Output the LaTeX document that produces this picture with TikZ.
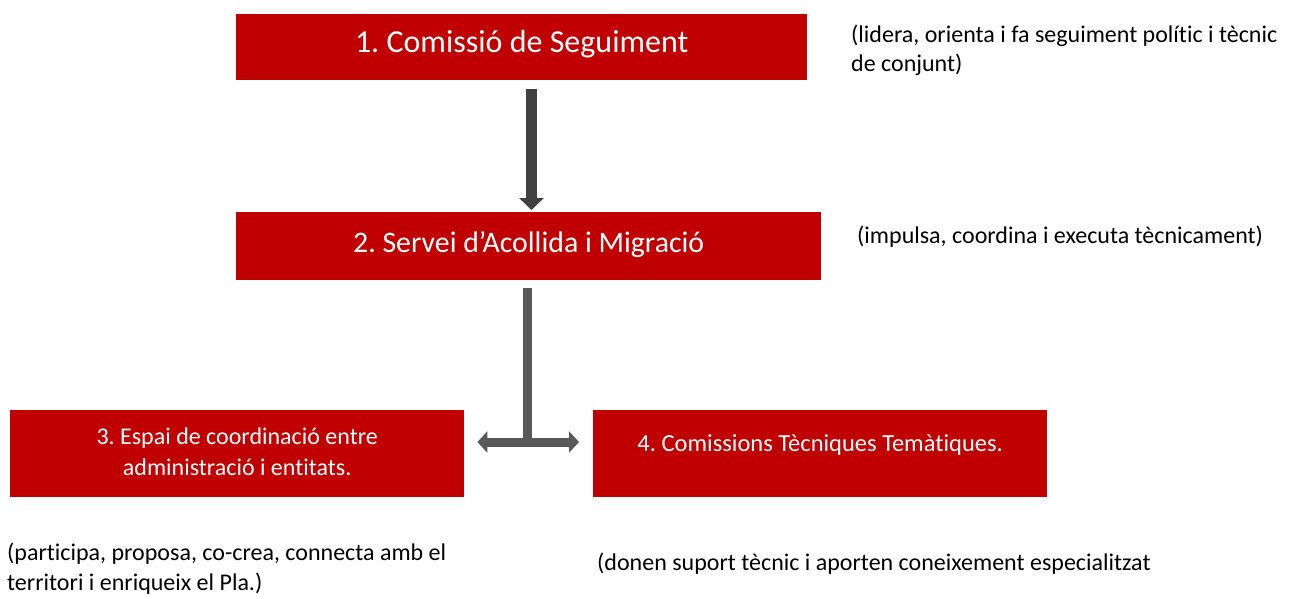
\documentclass[tikz,border=0pt]{standalone}
\usepackage{fontspec}
\setmainfont{Carlito}[Ligatures=NoCommon]
\usepackage{xcolor}
\usetikzlibrary{arrows.meta}
\definecolor{boxred}{HTML}{C00000}
\definecolor{arrowgray}{HTML}{595959}
\definecolor{darkgray}{HTML}{404040}
\frenchspacing

\begin{document}
\begin{tikzpicture}[line cap=butt,line join=miter,x=1pt,y=-1pt,
	redbox/.style={fill=boxred,text=white,inner sep=0pt,anchor=north west,align=center},
	note/.style={anchor=base west,inner sep=0pt,align=left,font=\fontsize{24}{29}\selectfont},
	downarrow/.style={draw=darkgray,line width=11pt,-{Triangle[length=12pt,width=24pt]}},
	tarrow/.style={draw=arrowgray,line width=9pt}]
		\useasboundingbox (0,0) rectangle (1296,598);
		% boxes
		\node[redbox,minimum width=571pt,minimum height=66pt,text height=20pt,text depth=10pt,font=\fontsize{32}{36}\selectfont] (seg) at (236,14) {1. Comissió de Seguiment};
		\node[redbox,minimum width=585pt,minimum height=68pt,text height=21pt,text depth=9pt,font=\fontsize{29.8}{36}\selectfont] (serv) at (236,212) {2. Servei d’Acollida i Migració};
		\node[redbox,minimum width=454pt,minimum height=87pt,text height=48pt,text depth=5pt,font=\fontsize{24}{31}\selectfont] (espai) at (10,410) {3. Espai de coordinació entre\\administració i entitats.};
		\node[redbox,minimum width=454pt,minimum height=87pt,text height=17pt,text depth=22pt,font=\fontsize{24.5}{30}\selectfont] (com) at (593,410) {4. Comissions Tècniques Temàtiques.};
		% notes
		\node[note] (nseg) at (851,71) {(lidera, orienta i fa seguiment polític i tècnic\\de conjunt)};
		\node[note] (nserv) at (857,243) {(impulsa, coordina i executa tècnicament)};
		\node[note,font=\fontsize{24}{30}\selectfont] (nespai) at (7,590) {(participa, proposa, co-crea, connecta amb el\\territori i enriqueix el Pla.)};
		\node[note] (ncom) at (597,570) {(donen suport tècnic i aporten coneixement especialitzat};
		% arrows
		\coordinate (joint) at (527,442);
		\draw[downarrow,shorten <=9pt,shorten >=2pt] (seg.south -| 531.5,0) -- (serv.north -| 531.5,0);
		\draw[tarrow,shorten <=8pt] (serv.south -| joint) -- (joint);
		\draw[tarrow,{Triangle[length=10pt,width=21pt]}-{Triangle[length=10pt,width=21pt]},shorten <=13pt,shorten >=14pt] (espai.east |- joint) -- (com.west |- joint);
\end{tikzpicture}
\end{document}
